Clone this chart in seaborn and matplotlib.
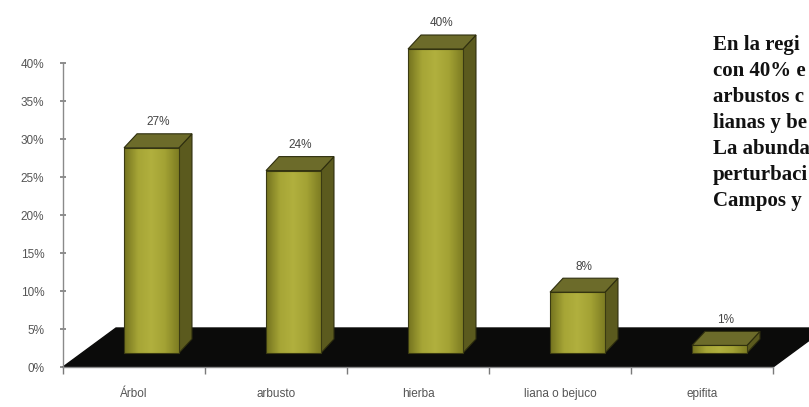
import matplotlib
matplotlib.use("Agg")
import matplotlib.pyplot as plt
import seaborn as sns
import pandas as pd
import numpy as np
from matplotlib.patches import Polygon
from matplotlib.colors import LinearSegmentedColormap
from matplotlib.transforms import ScaledTranslation, offset_copy

# ---- data ----
categories = ["Árbol", "arbusto", "hierba", "liana o bejuco", "epifita"]
values = [27, 24, 40, 8, 1]
value_labels = ["27%", "24%", "40%", "8%", "1%"]
y_ticks = [0, 5, 10, 15, 20, 25, 30, 35, 40]
y_tick_labels = ["0%", "5%", "10%", "15%", "20%", "25%", "30%", "35%", "40%"]
note_lines = ["En la regi", "con 40% e", "arbustos c", "lianas y be",
              "La abunda", "perturbaci", "Campos y"]

sns.set_theme(style="white")
plt.rcParams["font.family"] = ["Liberation Sans", "DejaVu Sans"]

W, H = 809, 407
fig = plt.figure(figsize=(W / 100, H / 100), dpi=100)
fig.patch.set_facecolor("white")

ax_left, ax_right, ax_zero, ax_top = 63, 773, 367, 20
px_per_pct = 7.6
px_per_cat = (ax_right - ax_left) / len(categories)
ax = fig.add_axes([ax_left / W, (H - ax_zero) / H,
                   (ax_right - ax_left) / W, (ax_zero - ax_top) / H])
ax.set_facecolor("none")

df = pd.DataFrame({"cat": categories, "val": values})
front_col = "#9b9a30"
sns.barplot(data=df, x="cat", y="val", width=0.387, color=front_col,
            saturation=1, edgecolor="#3a3a12", linewidth=0.8, ax=ax, zorder=4)
bars = list(ax.patches)

xlim = (-0.5, len(categories) - 0.5)
ylim = (0, (ax_zero - ax_top) / px_per_pct)

# 3D shift of the bars onto the floor
shift = ax.transData + ScaledTranslation(17.5 / 100, 14 / 100, fig.dpi_scale_trans)
dxd = 13 / px_per_cat
dyd = 14 / px_per_pct

# floor
fx = 53 / px_per_cat
fy = 39 / px_per_pct
floor = Polygon([(xlim[0], 0), (xlim[1], 0), (xlim[1] + fx, fy), (xlim[0] + fx, fy)],
                closed=True, facecolor="#0b0b0a", edgecolor="#0b0b0a",
                transform=ax.transData, clip_on=False, zorder=1)
ax.add_patch(floor)

grad_cmap = LinearSegmentedColormap.from_list(
    "olive", ["#74731f", "#a6a536", "#b1b03e", "#a3a234", "#7e7d23"])
grad = np.linspace(0, 1, 64).reshape(1, -1)

for p, lab in zip(bars, value_labels):
    p.set_transform(shift)
    p.set_clip_on(False)
    x0, y0 = p.get_x(), p.get_y()
    x1, y1 = x0 + p.get_width(), y0 + p.get_height()
    im = ax.imshow(grad, extent=[x0, x1, y0, y1], aspect="auto", cmap=grad_cmap,
                   interpolation="bilinear", zorder=4.2)
    im.set_transform(shift)
    im.set_clip_path(p)
    p.set_facecolor("none")
    p.set_zorder(4.5)
    side = Polygon([(x1, y0), (x1, y1), (x1 + dxd, y1 + dyd), (x1 + dxd, y0 + dyd)],
                   closed=True, facecolor="#5b5a1e", edgecolor="#2e2e0e",
                   linewidth=0.8, transform=shift, clip_on=False, zorder=3)
    top = Polygon([(x0, y1), (x1, y1), (x1 + dxd, y1 + dyd), (x0 + dxd, y1 + dyd)],
                  closed=True, facecolor="#6c6b2a", edgecolor="#2e2e0e",
                  linewidth=0.8, transform=shift, clip_on=False, zorder=5)
    ax.add_patch(side)
    ax.add_patch(top)
    ax.text((x0 + x1) / 2 + dxd / 2, y1 + dyd, lab,
            transform=offset_copy(shift, fig=fig, x=0, y=4, units="points"),
            ha="center", va="bottom", fontsize=8.5, color="#444444", zorder=6)

ax.set_xlim(*xlim)
ax.set_ylim(*ylim)

# axes styling
for s in ["top", "right"]:
    ax.spines[s].set_visible(False)
for s in ["left", "bottom"]:
    ax.spines[s].set_color("#8a8a8a")
    ax.spines[s].set_linewidth(1.0)
    ax.spines[s].set_zorder(2)
ax.spines["left"].set_bounds(0, y_ticks[-1])

ax.set_yticks(y_ticks)
ax.set_yticklabels(y_tick_labels)
ax.set_xticks(range(len(categories)))
ax.set_xticklabels(categories)
ax.set_xticks(np.arange(-0.5, len(categories)), minor=True)
ax.tick_params(axis="y", which="major", direction="inout", length=5, width=1.2,
               color="#7a7a7a", pad=11, labelsize=8.5, labelcolor="#555555", left=True)
ax.tick_params(axis="x", which="major", length=0, pad=15, labelsize=8.5,
               labelcolor="#555555")
ax.tick_params(axis="x", which="minor", direction="out", length=5, width=1,
               color="#7a7a7a", bottom=True)
ax.set_xlabel("")
ax.set_ylabel("")
ax.grid(False)

# side note (cut by the right edge in the original)
for i, line in enumerate(note_lines):
    fig.text(713 / W, 1 - (45 + 26 * i) / H, line, fontsize=15, fontweight="bold",
             family=["Liberation Serif", "DejaVu Serif"], color="#111111",
             ha="left", va="center")

fig.savefig("out.png", dpi=100)
